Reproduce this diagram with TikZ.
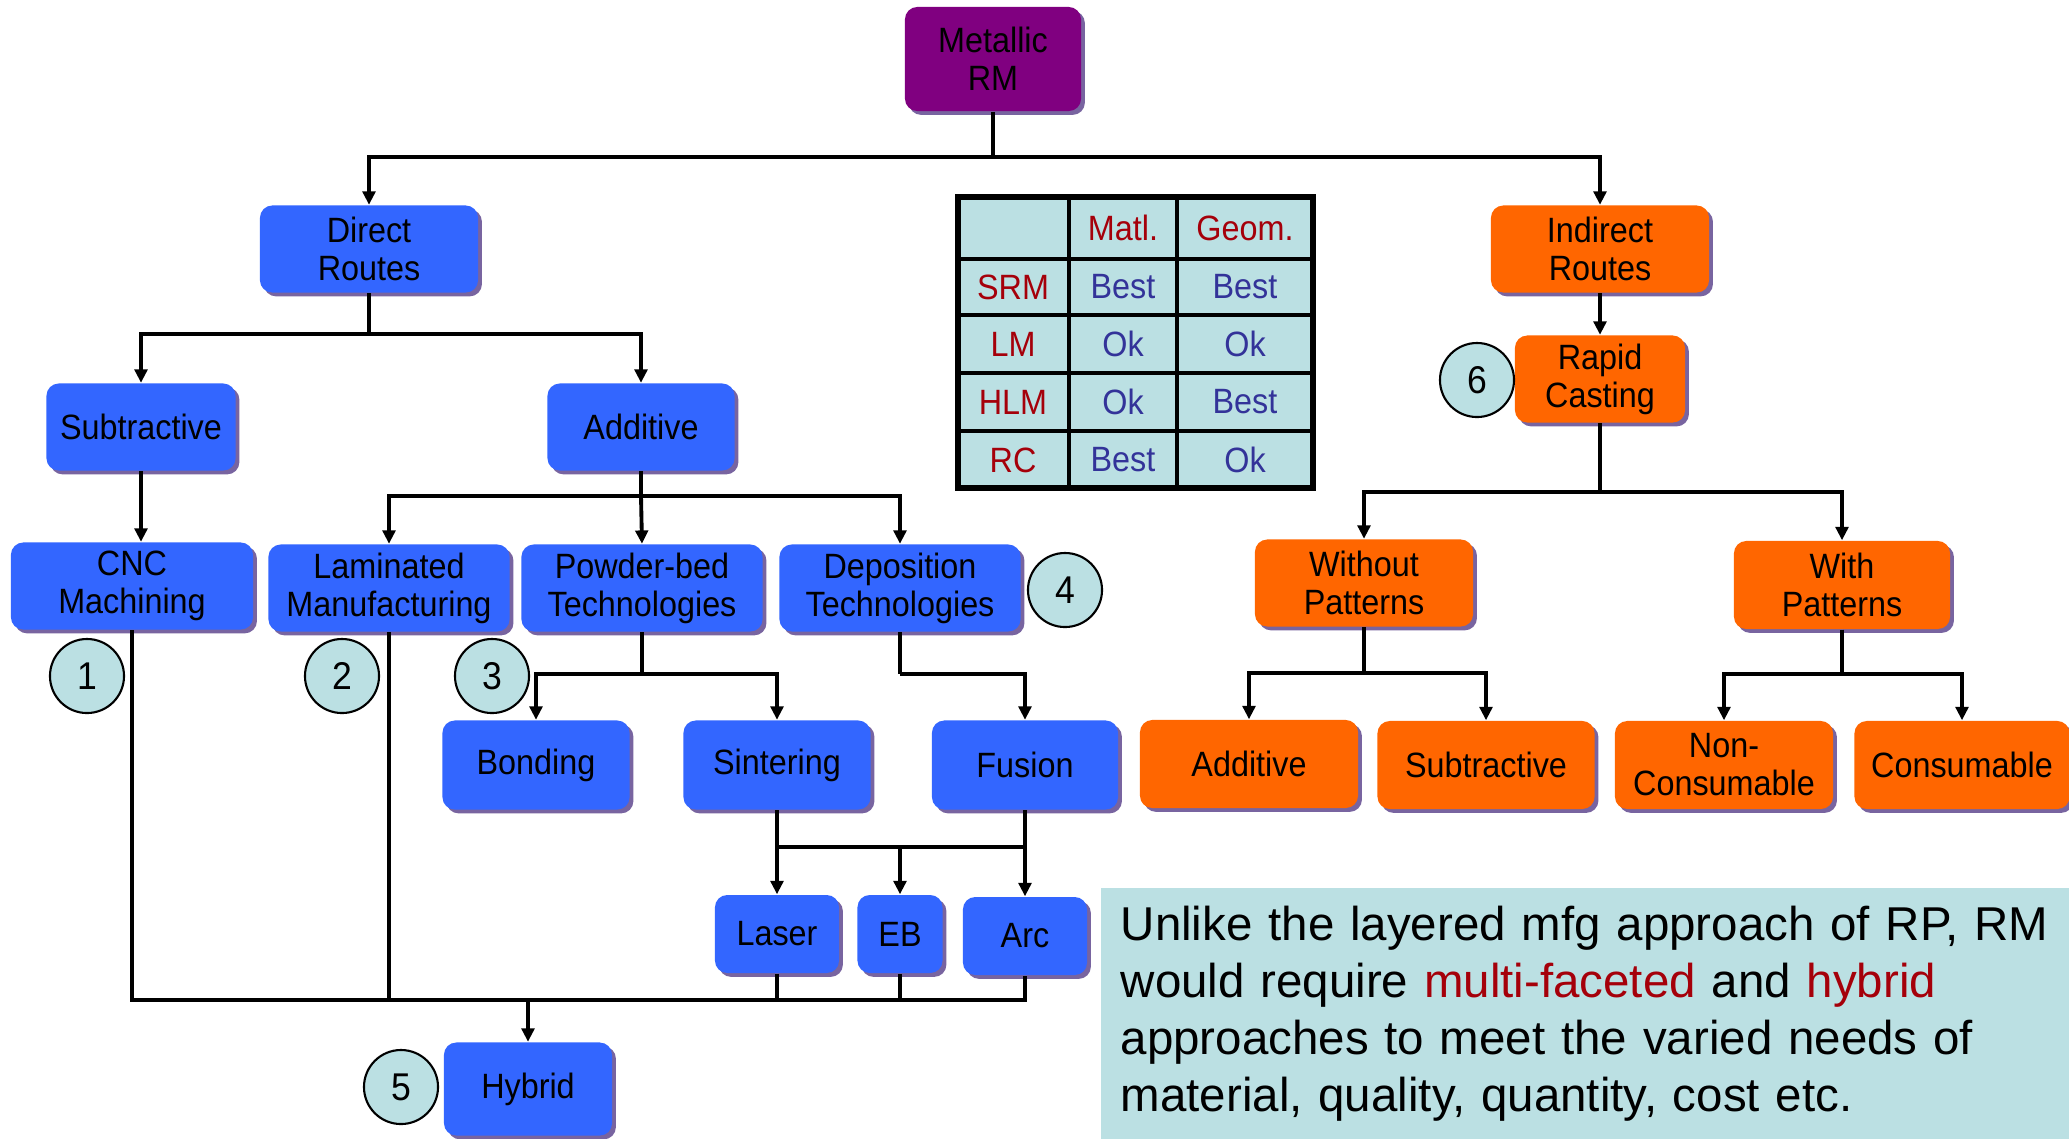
\documentclass[tikz,border=0pt]{standalone}
\usepackage{fontspec}
\setmainfont{Liberation Sans}[FakeStretch=0.92]
\newfontfamily\notefont{Liberation Sans}
\usetikzlibrary{arrows.meta,shadows}
\definecolor{RmBlue}{RGB}{51,102,255}
\definecolor{RmOrange}{RGB}{255,102,0}
\definecolor{RmPurple}{RGB}{128,0,128}
\definecolor{RmShadow}{RGB}{120,100,160}
\definecolor{RmTeal}{RGB}{187,224,227}
\definecolor{RmRed}{RGB}{165,0,10}
\definecolor{RmNavy}{RGB}{51,51,153}
\tikzset{
  rm/box/.style={
    draw=none,
    rounded corners=3.5pt,
    align=center,
    text=black,
    inner sep=2pt,
    minimum height=0.87cm,
    font=\fontsize{10}{10.8}\selectfont,
    drop shadow={shadow xshift=1.1pt, shadow yshift=-1.1pt, fill=RmShadow, opacity=1}
  },
  rm/blue/.style={rm/box, fill=RmBlue},
  rm/orange/.style={rm/box, fill=RmOrange},
  rm/root/.style={rm/box, fill=RmPurple},
  rm/num/.style={circle, draw=black, line width=0.6pt, fill=RmTeal, minimum size=0.74cm, inner sep=0pt, font=\fontsize{11}{12}\selectfont},
  rm/line/.style={line width=1.1pt, draw=black},
  rm/arrow/.style={-{Triangle[length=3.8pt,width=3.6pt]}, line width=1.1pt, draw=black},
  rm/grid/.style={line width=1pt, draw=black},
  rm/frame/.style={line width=1.9pt, draw=black},
  rm/head/.style={font=\fontsize{10}{12}\selectfont, text=RmRed},
  rm/cell/.style={font=\fontsize{10}{12}\selectfont, text=RmNavy},
  rm/note/.style={fill=RmTeal, align=left, anchor=north west, inner xsep=0.2cm,
    minimum width=9.69cm, minimum height=2.51cm, text width=9.29cm,
    font=\notefont\fontsize{13.5}{16.2}\selectfont}
}
\begin{document}
\begin{tikzpicture}[x=0.01cm,y=-0.01cm]
  \useasboundingbox (0,0) rectangle (2069,1138);
  % root and the two routes
  \node[rm/root, minimum width=1.76cm, minimum height=1.04cm] (metal) at (993,59) {Metallic\\RM};
  \node[rm/blue, minimum width=2.18cm] (direct) at (369,249) {Direct\\Routes};
  \node[rm/orange, minimum width=2.18cm] (indirect) at (1600,249) {Indirect\\Routes};
  % direct branch
  \node[rm/blue, minimum width=1.89cm] (sub) at (141,427) {Subtractive};
  \node[rm/blue, minimum width=1.87cm] (add) at (641,427) {Additive};
  \node[rm/blue, minimum width=2.42cm] (cnc) at (132,586) {CNC\\Machining};
  \node[rm/blue, minimum width=2.41cm] (lam) at (389,588) {Laminated\\Manufacturing};
  \node[rm/blue, minimum width=2.41cm] (powder) at (642,588) {Powder-bed\\Technologies};
  \node[rm/blue, minimum width=2.41cm] (depo) at (900,588) {Deposition\\Technologies};
  \node[rm/blue, minimum width=1.87cm, minimum height=0.89cm] (bond) at (536,765) {Bonding};
  \node[rm/blue, minimum width=1.87cm, minimum height=0.89cm] (sinter) at (777,765) {Sintering};
  \node[rm/blue, minimum width=1.86cm, minimum height=0.89cm] (fusion) at (1025,765) {Fusion};
  \node[rm/blue, minimum width=1.24cm, minimum height=0.78cm] (laser) at (777,934) {Laser};
  \node[rm/blue, minimum width=0.85cm, minimum height=0.78cm] (eb) at (900,934) {EB};
  \node[rm/blue, minimum width=1.24cm, minimum height=0.78cm] (arc) at (1025,936) {Arc};
  \node[rm/blue, minimum width=1.68cm, minimum height=0.93cm] (hybrid) at (528,1089) {Hybrid};
  % indirect branch
  \node[rm/orange, minimum width=1.70cm] (rapid) at (1600,379) {Rapid\\Casting};
  \node[rm/orange, minimum width=2.18cm] (without) at (1364,583) {Without\\Patterns};
  \node[rm/orange, minimum width=2.16cm, minimum height=0.88cm] (with) at (1842,585) {With\\Patterns};
  \node[rm/orange, minimum width=2.18cm, minimum height=0.88cm] (oadd) at (1249,764) {Additive};
  \node[rm/orange, minimum width=2.17cm, minimum height=0.88cm] (osub) at (1486,765) {Subtractive};
  \node[rm/orange, minimum width=2.18cm, minimum height=0.88cm] (noncons) at (1724,765) {Non-\\Consumable};
  \node[rm/orange, minimum width=2.15cm, minimum height=0.88cm] (cons) at (1962,765) {Consumable};
  % numbered markers
  \node[rm/num] (n1) at (87,676) {1};
  \node[rm/num] (n2) at (342,676) {2};
  \node[rm/num] (n3) at (492,676) {3};
  \node[rm/num] (n4) at (1065,590) {4};
  \node[rm/num] (n5) at (401,1087) {5};
  \node[rm/num] (n6) at (1477,380) {6};

  % connectors from the root
  \draw[rm/line] (metal.south) -- ++(0,45) coordinate (topbus);
  \draw[rm/arrow] (topbus) -| (direct.north);
  \draw[rm/arrow] (topbus) -| (indirect.north);
  \draw[rm/line] (direct.south) -- ++(0,41) coordinate (dbus);
  \draw[rm/arrow] (dbus) -| (sub.north);
  \draw[rm/arrow] (dbus) -| (add.north);
  \draw[rm/arrow] (sub.south) -- (sub.south |- cnc.north);
  \draw[rm/line] (add.south) -- ++(0,25) coordinate (abus);
  \draw[rm/arrow] (abus) -| (lam.north);
  \draw[rm/arrow] (abus) -- (powder.north);
  \draw[rm/arrow] (abus) -| (depo.north);
  \draw[rm/line] (powder.south) -- ++(0,42) coordinate (pbus);
  \draw[rm/line] (depo.south) -- (depo.south |- pbus) coordinate (qbus);
  \draw[rm/arrow] (pbus) -| (bond.north);
  \draw[rm/arrow] (pbus) -| (sinter.north);
  \draw[rm/arrow] (qbus) -| (fusion.north);
  \draw[rm/line] (sinter.south) -- ++(0,37) coordinate (sbus);
  \draw[rm/line] (fusion.south) -- (fusion.south |- sbus) coordinate (fbus);
  \draw[rm/line] (sbus) -- (fbus);
  \draw[rm/arrow] (sbus) -- (laser.north);
  \draw[rm/arrow] (sbus -| eb.north) -- (eb.north);
  \draw[rm/arrow] (fbus) -- (arc.north);
  % everything meets in hybrid
  \coordinate (hbus) at (528,1000);
  \draw[rm/line] (cnc.south) -- (cnc.south |- hbus) -- (arc.south |- hbus) -- (arc.south);
  \draw[rm/line] (lam.south) -- (lam.south |- hbus);
  \draw[rm/line] (laser.south) -- (laser.south |- hbus);
  \draw[rm/line] (eb.south) -- (eb.south |- hbus);
  \draw[rm/arrow] (hbus) -- (hybrid.north);
  % indirect side
  \draw[rm/arrow] (indirect.south) -- (rapid.north);
  \draw[rm/line] (rapid.south) -- ++(0,69) coordinate (rbus);
  \draw[rm/arrow] (rbus) -| (without.north);
  \draw[rm/arrow] (rbus) -| (with.north);
  \draw[rm/line] (without.south) -- ++(0,46) coordinate (wbus);
  \draw[rm/arrow] (wbus) -| (oadd.north);
  \draw[rm/arrow] (wbus) -| (osub.north);
  \draw[rm/line] (with.south) -- ++(0,44) coordinate (pbus2);
  \draw[rm/arrow] (pbus2) -| (noncons.north);
  \draw[rm/arrow] (pbus2) -| (cons.north);

  % comparison table
  \fill[RmTeal] (958,197) rectangle (1313,488);
  \draw[rm/grid] (1069,197) -- (1069,488) (1177,197) -- (1177,488)
    (958,259) -- (1313,259) (958,315) -- (1313,315)
    (958,373) -- (1313,373) (958,431) -- (1313,431);
  \draw[rm/frame] (958,197) rectangle (1313,488);
  \node[rm/head] (hmatl) at (1123,228) {Matl.};
  \node[rm/head] (hgeom) at (1245,228) {Geom.};
  \node[rm/head] (rsrm) at (1013,287) {SRM};
  \node[rm/head] (rlm) at (1013,344) {LM};
  \node[rm/head] (rhlm) at (1013,402) {HLM};
  \node[rm/head] (rrc) at (1013,460) {RC};
  \node[rm/cell] (c11) at (1123,287) {Best};
  \node[rm/cell] (c12) at (1245,287) {Best};
  \node[rm/cell] (c21) at (1123,344) {Ok};
  \node[rm/cell] (c22) at (1245,344) {Ok};
  \node[rm/cell] (c31) at (1123,402) {Ok};
  \node[rm/cell] (c32) at (1245,402) {Best};
  \node[rm/cell] (c41) at (1123,460) {Best};
  \node[rm/cell] (c42) at (1245,460) {Ok};

  % note box
  \node[rm/note] (note) at (1100,887) {Unlike the layered mfg approach of RP, RM\\
    would require \textcolor{RmRed}{multi-faceted} and \textcolor{RmRed}{hybrid}\\
    approaches to meet the varied needs of\\
    material, quality, quantity, cost etc.};
\end{tikzpicture}
\end{document}
